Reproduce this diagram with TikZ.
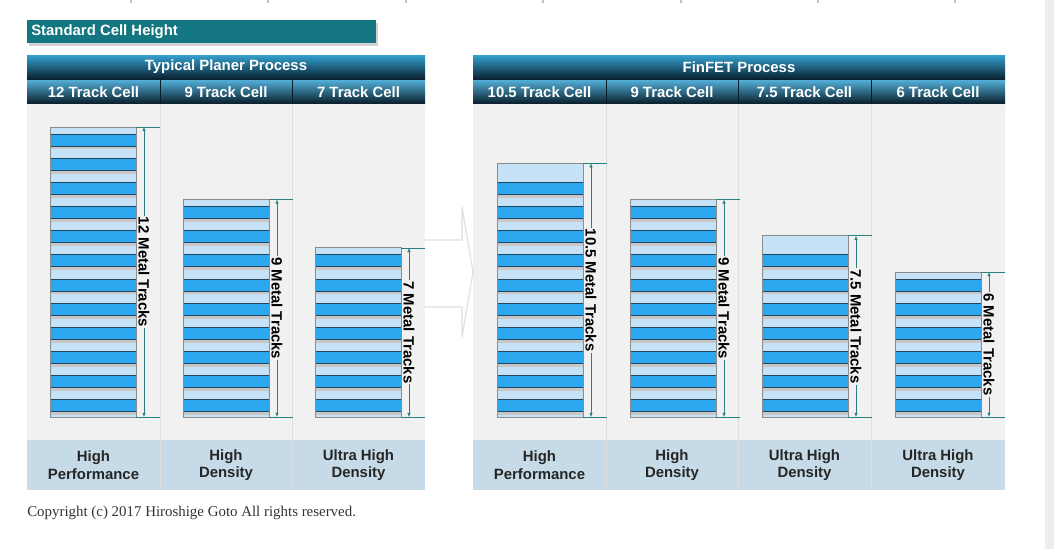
\documentclass[tikz,border=0pt]{standalone}
\usepackage{fontspec}
\setmainfont{Liberation Serif}
\setsansfont{Liberation Sans}
\usetikzlibrary{calc,positioning,arrows.meta}
\definecolor{TitleTeal}{RGB}{20,118,128}
\definecolor{HeadTop}{RGB}{52,160,208}
\definecolor{HeadBot}{RGB}{8,28,40}
\definecolor{BodyGray}{RGB}{241,241,241}
\definecolor{FootBlue}{RGB}{198,219,231}
\definecolor{TrkBlue}{RGB}{44,168,240}
\definecolor{TrkLight}{RGB}{198,226,247}
\definecolor{TrkEdge}{RGB}{35,70,95}
\definecolor{DimTeal}{RGB}{40,128,130}

\begin{document}
\begin{tikzpicture}[x=0.025cm,y=-0.025cm,
  hdr/.style={font=\sffamily\bfseries\fontsize{10.6}{12}\selectfont,text=white,inner sep=0pt},
  foot/.style={font=\sffamily\bfseries\fontsize{10.6}{12.6}\selectfont,text=black!85,align=center},
  dimlab/.style={font=\sffamily\bfseries\fontsize{10.6}{12}\selectfont,text=black,rotate=-90,fill=BodyGray,inner sep=0.8pt}]
\useasboundingbox (0,0) rectangle (1054,549);
\fill[white] (0,0) rectangle (1054,549);
\fill[black!7] (1045,0) rectangle (1054,549);
\foreach \x in {131,268,406,543,681,818,955} \draw[black!25,line width=1pt] (\x,0) -- (\x,3);
% title bar
\fill[black!18] (29,23) rectangle (378,46);
\fill[TitleTeal] (27,20) rectangle (376,43);
\node[hdr,anchor=west] (title) at (31,31.5) {Standard Cell Height};
% left panel
\shade[top color=HeadTop,bottom color=HeadBot] (27,55) rectangle (425,80);
\shade[top color=HeadTop!85!white,bottom color=HeadBot] (27,80) rectangle (425,104);
\fill[BodyGray] (27,104) rectangle (425,440);
\fill[FootBlue] (27,440) rectangle (425,490);
\foreach \x in {160,292}{\draw[HeadBot] (\x,80) -- (\x,104); \draw[black!13] (\x,104) -- (\x,490);}
% right panel
\shade[top color=HeadTop,bottom color=HeadBot] (473,55) rectangle (1005,80);
\shade[top color=HeadTop!85!white,bottom color=HeadBot] (473,80) rectangle (1005,104);
\fill[BodyGray] (473,104) rectangle (1005,440);
\fill[FootBlue] (473,440) rectangle (1005,490);
\foreach \x in {606,738,871}{\draw[HeadBot] (\x,80) -- (\x,104); \draw[black!13] (\x,104) -- (\x,490);}
% block arrow between panels
\draw[black!12,line width=0.8pt] (425,240) -- (462,240) -- (462,207) -- (473,272) -- (462,337) -- (462,307) -- (425,307);
% headers
\node[hdr] (planar) at (226,67) {Typical Planer Process};
\node[hdr] (finfet) at (739,67) {FinFET Process};
\node[hdr] (h12) at (93.5,92) {12 Track Cell};
\node[hdr] (h9a) at (226,92) {9 Track Cell};
\node[hdr] (h7) at (358.5,92) {7 Track Cell};
\node[hdr] (h105) at (539.5,92) {10.5 Track Cell};
\node[hdr] (h9b) at (672,92) {9 Track Cell};
\node[hdr] (h75) at (804.5,92) {7.5 Track Cell};
\node[hdr] (h6) at (938,92) {6 Track Cell};
% metal track stacks
\foreach \xl/\n/\h/\lab/\nm in {50/12/0/12/a,183/9/0/9/b,315/7/0/7/c,497/10/1/10.5/d,630/9/0/9/e,762/7/1/7.5/f,895/6/0/6/g}{
  \pgfmathsetmacro\yt{417-(\n+0.5*\h)*24.17}
  \coordinate (\nm top) at (\xl+94,\yt); \coordinate (\nm bot) at (\xl+94,417);
  \fill[TrkLight] (\xl,\yt) rectangle (\xl+86,417);
  \foreach \i in {1,...,\n}{
    \pgfmathsetmacro\yb{417-\i*24.17}
    \fill[black!22] (\xl,\yb+19.5) rectangle (\xl+86,\yb+22.5);
    \filldraw[fill=TrkBlue,draw=TrkEdge,line width=0.5pt] (\xl,\yb+7) rectangle (\xl+86,\yb+19);
  }
  \draw[black!45,line width=0.6pt] (\xl,\yt) rectangle (\xl+86,417);
  \draw[DimTeal] (\xl+86,\yt) -- ++(24,0);
  \draw[DimTeal] (\xl+86,417) -- ++(24,0);
  \draw[DimTeal,{Latex[length=3pt,width=2.5pt]}-{Latex[length=3pt,width=2.5pt]}] (\nm top) -- (\nm bot) node[midway,dimlab] (\nm lab) {\lab{} Metal Tracks};
}
% footers
\node[foot] (f12) at (93.5,465) {High\\Performance};
\node[foot] (f9a) at (226,465) {High\\Density};
\node[foot] (f7) at (358.5,465) {Ultra High\\Density};
\node[foot] (f105) at (539.5,465) {High\\Performance};
\node[foot] (f9b) at (672,465) {High\\Density};
\node[foot] (f75) at (804.5,465) {Ultra High\\Density};
\node[foot] (f6) at (938,465) {Ultra High\\Density};
\node[anchor=west,inner sep=0pt,font=\fontsize{10.6}{12}\selectfont,text=black!80] (copy) at (27,513) {Copyright (c) 2017 Hiroshige Goto All rights reserved.};
\end{tikzpicture}
\end{document}
